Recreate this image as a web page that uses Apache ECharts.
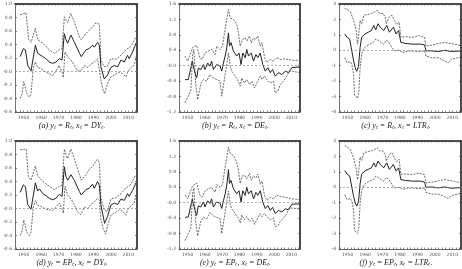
<!DOCTYPE html>
<html>
<head>
<meta charset="utf-8">
<script src="https://cdn.jsdelivr.net/npm/echarts@6/dist/echarts.min.js"></script>
<style>
html, body { margin: 0; padding: 0; background: #fff; }
#main { width: 462px; height: 269px; }
</style>
</head>
<body>
<div id="main"></div>
<script>
"use strict";
// tick labels / positions on the year axis
let yearLabels = [1950, 1960, 1970, 1980, 1990, 2000, 2010];
let yearTicks = [1946, 1948, 1950, 1952, 1954, 1956, 1958, 1960, 1962, 1964, 1966, 1968, 1970, 1972, 1974, 1976, 1978,
    1980, 1982, 1984, 1986, 1988, 1990, 1992, 1994, 1996, 1998, 2000, 2002, 2004, 2006, 2008, 2010, 2012, 2014];
let captions = [
    '(a) yₜ = Rₜ, xₜ = DYₜ.',
    '(b) yₜ = Rₜ, xₜ = DEₜ.',
    '(c) yₜ = Rₜ, xₜ = LTRₜ.',
    '(d) yₜ = EPₜ, xₜ = DYₜ.',
    '(e) yₜ = EPₜ, xₜ = DEₜ.',
    '(f) yₜ = EPₜ, xₜ = LTRₜ.'
];

// (a) upper band, estimate, lower band
let aUpper = [[1948,0.84],[1951.3,0.87],[1951.8,0.87],[1952.9,0.47],[1954.2,0.43],[1956.7,0.64],[1958,0.47],[1961,0.42],[1962.5,0.38],[1964.7,0.32],[1967.6,0.27],[1970.4,0.32],[1972,0.34],[1973.3,0.81],[1974.3,0.79],[1975.2,0.72],[1977,0.86],[1979,0.74],[1982,0.51],[1983,0.47],[1985.7,0.56],[1987.6,0.61],[1989.5,0.66],[1991.4,0.72],[1992.4,0.74],[1993.4,0.70],[1994.3,0.17],[1996.2,0.07],[1998,0.08],[2000,0.19],[2002.9,0.18],[2005.8,0.24],[2008.6,0.32],[2011.5,0.37],[2014.4,0.51]];
let aMid = [[1948,0.22],[1949.8,0.34],[1951,0.32],[1952.3,0.09],[1954.2,0.01],[1955.2,0.03],[1956.7,0.39],[1958,0.27],[1959,0.29],[1961,0.22],[1962.8,0.19],[1964.7,0.14],[1966.6,0.12],[1968.5,0.14],[1970.4,0.19],[1972,0.17],[1973.3,0.56],[1974.3,0.47],[1975.2,0.42],[1977.1,0.54],[1979,0.44],[1982,0.27],[1983,0.22],[1985.7,0.32],[1987.6,0.34],[1989.5,0.39],[1990.5,0.36],[1992.4,0.43],[1993.4,0.39],[1994.3,0.07],[1996.2,-0.11],[1998.1,-0.05],[2000,0.06],[2002,0.09],[2003.9,0.07],[2005.8,0.17],[2007.7,0.14],[2009.6,0.24],[2010.5,0.19],[2012.5,0.29],[2014.4,0.42]];
let aLower = [[1948,-0.40],[1949.1,-0.33],[1950,-0.15],[1950.6,-0.20],[1951.7,-0.33],[1953.2,-0.38],[1954.2,-0.33],[1955.5,0.06],[1956.7,0.14],[1958,0.06],[1960,0.04],[1962.8,-0.01],[1964.7,-0.03],[1966.6,-0.06],[1968.5,0.01],[1970.4,0.09],[1972,-0.01],[1972.7,-0.09],[1973.7,0.29],[1975.2,0.22],[1977.1,0.17],[1979,0.09],[1980.9,0.01],[1982.8,0.01],[1984.8,0.09],[1986.7,0.06],[1988.6,0.11],[1990.5,0.14],[1992.4,0.19],[1993.4,0.17],[1994.3,-0.13],[1995.6,-0.28],[1996.4,-0.33],[1998.1,-0.18],[2000,-0.08],[2002,-0.05],[2004.8,-0.01],[2006.7,-0.03],[2008.6,-0.08],[2009.6,-0.01],[2011.5,0.06],[2013.4,0.09],[2014.4,0.22]];

// (b)
let bUpper = [[1948.5,0.25],[1950,0.12],[1952.9,0.47],[1953.8,0.42],[1955.2,0.53],[1957,0.21],[1958.4,0.16],[1960,0.33],[1962,0.38],[1963.9,0.42],[1965.9,0.29],[1966.8,0.51],[1968.8,0.42],[1970.1,0.51],[1972,1.03],[1973.6,1.46],[1974.6,1.24],[1976.5,1.20],[1978.4,1.07],[1979.4,0.85],[1980.4,0.51],[1981.7,0.68],[1983.3,0.72],[1984.2,0.64],[1985.8,0.77],[1986.8,0.59],[1988.1,0.72],[1989.5,0.68],[1990.6,0.77],[1992,0.51],[1993,0.60],[1994.5,0.21],[1995.8,0.08],[1997.8,0.16],[1999.7,0.12],[2001.6,0.21],[2003.6,0.16],[2006.5,0.18],[2010.3,0.14],[2015,0.14]];
let bMid = [[1948.5,-0.36],[1950.4,-0.36],[1952.7,0.12],[1953.3,-0.01],[1954.3,-0.19],[1955.2,-0.32],[1956.2,-0.06],[1957.7,-0.10],[1959.1,0.03],[1960,-0.10],[1961.6,0.07],[1962.9,-0.01],[1963.9,0.12],[1964.9,-0.10],[1966.8,0.03],[1968.8,-0.01],[1969.7,-0.14],[1970.7,0.07],[1971.7,0.25],[1972.6,0.46],[1973.6,0.85],[1974.2,0.51],[1975.1,0.60],[1976.5,0.38],[1978.4,0.25],[1979.7,0.33],[1980.9,0.03],[1981.9,0.33],[1983.3,0.21],[1984.2,0.42],[1985.2,0.25],[1986.8,0.33],[1988.1,0.12],[1989.5,0.29],[1990.6,0.21],[1992,0.33],[1993.5,0.03],[1994.9,-0.14],[1996.4,-0.05],[1997.8,-0.18],[1999.1,-0.10],[2000.7,-0.27],[2002.6,-0.18],[2004.5,-0.23],[2006.5,-0.14],[2008.4,-0.18],[2010.3,-0.05],[2015,-0.03]];
let bLower = [[1948.5,-0.96],[1950.4,-0.79],[1951.9,-0.62],[1952.9,0.29],[1953.6,0.42],[1954.6,-0.45],[1955.8,-0.88],[1956.6,-0.92],[1957.7,-0.45],[1959.1,-0.36],[1961,-0.40],[1962.9,-0.23],[1964.9,-0.32],[1966.8,-0.36],[1968.8,-0.40],[1969.7,-0.79],[1970.3,-0.62],[1971.7,-0.23],[1972.6,0.03],[1973.6,0.33],[1974.6,-0.01],[1975.5,-0.14],[1977.5,-0.27],[1979.4,-0.40],[1980.4,-0.53],[1981.3,-0.32],[1982.9,-0.45],[1984.2,-0.36],[1985.8,-0.49],[1987.2,-0.40],[1988.7,-0.58],[1990,-0.45],[1992,-0.27],[1993,-0.36],[1994.5,-0.27],[1995.8,-0.36],[1997.8,-0.45],[1999.7,-0.40],[2000.7,-0.71],[2002.2,-0.66],[2003.6,-0.49],[2005.5,-0.40],[2007.4,-0.27],[2008.8,-0.14],[2010.3,-0.14],[2015,-0.18]];

// (c)
let cUpper = [[1948.3,2.71],[1949.6,2.65],[1951.5,2.49],[1953.4,1.94],[1954.9,1.28],[1955.6,0.40],[1956.2,0.84],[1957.1,1.94],[1958,1.72],[1959.3,2.27],[1961.8,2.34],[1963.6,2.38],[1965.5,2.49],[1967,2.60],[1968.3,2.38],[1970.2,2.38],[1971.5,2.16],[1972.1,1.72],[1973.9,2.16],[1975.4,2.27],[1976.7,1.94],[1978,1.68],[1979.5,1.83],[1980.5,0.84],[1983.3,0.88],[1987,0.84],[1990.7,0.95],[1994.1,0.84],[1994.9,0.29],[1998.2,0.33],[2002,0.44],[2005.7,0.51],[2011.3,0.40],[2015,0.29]];
let cMid = [[1948.3,1.06],[1949.6,0.84],[1951.1,0.73],[1951.9,0.62],[1953.4,-0.70],[1954.3,-1.14],[1955.2,-1.36],[1956.2,-1.03],[1957.1,0.18],[1958,0.84],[1959.9,1.06],[1961.8,1.17],[1963.6,1.28],[1965,1.61],[1966.1,1.33],[1967.4,1.72],[1968.7,1.50],[1970.6,1.28],[1972.4,1.61],[1973.9,1.17],[1974.9,1.06],[1976.2,1.50],[1977.7,1.06],[1979.2,1.28],[1980.5,0.51],[1983.3,0.44],[1987,0.40],[1991.7,0.40],[1994.1,0.35],[1994.9,-0.04],[1998.2,-0.04],[2002,-0.08],[2005.7,0.0],[2009.4,-0.08],[2015,-0.04]];
let cLower = [[1948.3,-0.48],[1949.6,-0.81],[1951.5,-0.74],[1952.4,-0.92],[1953.4,-1.58],[1953.9,-2.90],[1954.9,-3.01],[1955.6,-3.12],[1956.4,-2.68],[1957.1,-1.14],[1958,-0.26],[1959,0.07],[1960.8,0.29],[1962.7,0.40],[1964.6,0.51],[1966.1,0.73],[1967.4,0.66],[1969.3,0.51],[1970.6,0.40],[1972.4,0.66],[1974.3,0.40],[1975.4,0.18],[1976.7,-0.04],[1979.5,0.0],[1981.4,-0.15],[1985.1,-0.04],[1990.7,-0.08],[1994.1,-0.04],[1994.9,-0.37],[1998.2,-0.48],[2002,-0.48],[2005.7,-0.70],[2007.6,-0.81],[2009.4,-0.59],[2013.2,-0.48],[2015,-0.44]];

// (d)
let dUpper = [[1948,0.87],[1951.5,0.88],[1952.6,0.47],[1954.2,0.42],[1956.7,0.63],[1958,0.48],[1961,0.40],[1962.5,0.37],[1964.7,0.33],[1967.6,0.28],[1970.4,0.33],[1972,0.34],[1973.3,0.88],[1974.3,0.80],[1975.2,0.74],[1977,0.88],[1979,0.74],[1982,0.50],[1983,0.42],[1985.7,0.50],[1987.6,0.58],[1989.5,0.62],[1991.4,0.70],[1992.4,0.73],[1993.4,0.68],[1994.3,0.15],[1996.2,-0.02],[1998,-0.04],[2000,0.14],[2002.9,0.16],[2005.8,0.22],[2008.6,0.30],[2011.5,0.36],[2014.4,0.50]];
let dMid = [[1948,0.24],[1949.8,0.35],[1951,0.32],[1952.3,0.06],[1954.2,-0.01],[1955.2,0.01],[1956.7,0.38],[1958,0.26],[1959,0.29],[1961,0.22],[1962.8,0.19],[1964.7,0.15],[1966.6,0.13],[1968.5,0.15],[1970.4,0.21],[1972,0.18],[1973.3,0.62],[1974.3,0.47],[1975.2,0.42],[1977.1,0.50],[1979,0.42],[1982,0.25],[1983,0.20],[1985.7,0.28],[1987.6,0.30],[1989.5,0.36],[1990.5,0.30],[1992.4,0.40],[1993.4,0.34],[1994.3,0.05],[1996.4,-0.22],[1998.1,-0.12],[2000,0.05],[2002,0.08],[2003.9,0.06],[2005.8,0.14],[2007.7,0.12],[2009.6,0.22],[2010.5,0.18],[2012.5,0.27],[2014.4,0.38]];
let dLower = [[1948,-0.40],[1949.1,-0.33],[1950,-0.17],[1950.6,-0.22],[1951.7,-0.35],[1953.2,-0.40],[1954.2,-0.35],[1955.5,0.02],[1956.7,0.12],[1958,0.05],[1960,0.03],[1962.8,-0.01],[1964.7,-0.02],[1966.6,-0.03],[1968.5,0.02],[1970.4,0.08],[1972,0.0],[1972.7,-0.07],[1973.7,0.33],[1975.2,0.20],[1977.1,0.14],[1979,0.06],[1980.9,-0.05],[1982.8,-0.09],[1984.8,0.02],[1986.7,0.0],[1988.6,0.06],[1990.5,0.10],[1992.4,0.15],[1993.4,0.12],[1994.3,-0.16],[1995.6,-0.30],[1997,-0.38],[1998.1,-0.26],[2000,-0.10],[2002,-0.07],[2004.8,-0.02],[2006.7,-0.04],[2008.6,-0.10],[2009.6,-0.02],[2011.5,0.04],[2013.4,0.08],[2014.4,0.20]];

// (e)
let eUpper = [[1948.5,0.20],[1950,0.10],[1952.9,0.44],[1953.8,0.40],[1955.2,0.51],[1957,0.20],[1958.4,0.14],[1960,0.30],[1962,0.36],[1963.9,0.40],[1965.9,0.27],[1966.8,0.47],[1968.8,0.40],[1970.1,0.47],[1972,1.00],[1973.6,1.44],[1974.6,1.28],[1976.5,1.22],[1978.4,1.05],[1979.4,0.84],[1980.4,0.50],[1981.7,0.70],[1983.3,0.70],[1984.2,0.62],[1985.8,0.76],[1986.8,0.58],[1988.1,0.70],[1989.5,0.64],[1990.6,0.74],[1992,0.48],[1993,0.56],[1994.5,0.18],[1995.8,0.06],[1997.8,0.14],[1999.7,0.10],[2001.6,0.20],[2003.6,0.16],[2006.5,0.14],[2010.3,0.10],[2015,0.08]];
let eMid = [[1948.5,-0.38],[1950.4,-0.37],[1952.7,0.10],[1953.3,-0.03],[1954.3,-0.20],[1955.2,-0.33],[1956.2,-0.08],[1957.7,-0.11],[1959.1,0.02],[1960,-0.11],[1961.6,0.05],[1962.9,-0.02],[1963.9,0.10],[1964.9,-0.11],[1966.8,0.02],[1968.8,-0.02],[1969.7,-0.15],[1970.7,0.05],[1971.7,0.23],[1972.6,0.44],[1973.6,0.86],[1974.2,0.50],[1975.1,0.58],[1976.5,0.36],[1978.4,0.23],[1979.7,0.31],[1980.9,0.02],[1981.9,0.31],[1983.3,0.19],[1984.2,0.40],[1985.2,0.23],[1986.8,0.31],[1988.1,0.10],[1989.5,0.27],[1990.6,0.19],[1992,0.31],[1993.5,0.01],[1994.9,-0.15],[1996.4,-0.07],[1997.8,-0.20],[1999.1,-0.12],[2000.7,-0.28],[2002.6,-0.20],[2004.5,-0.24],[2006.5,-0.16],[2008.4,-0.18],[2010.3,-0.04],[2015,-0.03]];
let eLower = [[1948.5,-0.98],[1950.4,-0.80],[1951.9,-0.64],[1952.9,0.26],[1953.6,0.38],[1954.6,-0.46],[1955.8,-0.86],[1956.6,-0.90],[1957.7,-0.46],[1959.1,-0.38],[1961,-0.42],[1962.9,-0.25],[1964.9,-0.34],[1966.8,-0.38],[1968.8,-0.42],[1969.7,-0.80],[1970.3,-0.64],[1971.7,-0.25],[1972.6,0.01],[1973.6,0.30],[1974.6,-0.03],[1975.5,-0.16],[1977.5,-0.28],[1979.4,-0.40],[1980.4,-0.52],[1981.3,-0.32],[1982.9,-0.44],[1984.2,-0.36],[1985.8,-0.48],[1987.2,-0.40],[1988.7,-0.56],[1990,-0.44],[1992,-0.28],[1993,-0.36],[1994.5,-0.28],[1995.8,-0.36],[1997.8,-0.44],[1999.7,-0.40],[2000.7,-0.62],[2002.2,-0.60],[2003.6,-0.48],[2005.5,-0.40],[2007.4,-0.28],[2008.8,-0.14],[2010.3,-0.14],[2015,-0.16]];

// (f)
let fUpper = [[1948.3,2.70],[1949.6,2.62],[1951.5,2.46],[1953.4,1.90],[1954.9,1.20],[1955.6,0.50],[1956.2,0.90],[1957.1,1.96],[1958,1.74],[1959.3,2.24],[1961.8,2.32],[1963.6,2.36],[1965.5,2.46],[1967,2.56],[1968.3,2.36],[1970.2,2.36],[1971.5,2.14],[1972.1,1.70],[1973.9,2.12],[1975.4,2.24],[1976.7,1.92],[1978,1.66],[1979.5,1.82],[1980.5,0.84],[1983.3,0.86],[1987,0.82],[1990.7,0.92],[1994.1,0.82],[1994.9,0.28],[1998.2,0.32],[2002,0.42],[2005.7,0.50],[2011.3,0.38],[2015,0.28]];
let fMid = [[1948.3,1.08],[1949.6,0.86],[1951.1,0.74],[1951.9,0.64],[1953.4,-0.60],[1954.3,-1.02],[1955.2,-1.22],[1956.2,-0.94],[1957.1,0.22],[1958,0.86],[1959.9,1.06],[1961.8,1.16],[1963.6,1.26],[1965,1.58],[1966.1,1.32],[1967.4,1.70],[1968.7,1.48],[1970.6,1.26],[1972.4,1.58],[1973.9,1.16],[1974.9,1.06],[1976.2,1.48],[1977.7,1.06],[1979.2,1.26],[1980.5,0.50],[1983.3,0.44],[1987,0.40],[1991.7,0.40],[1994.1,0.34],[1994.9,0.0],[1998.2,0.02],[2002,-0.04],[2005.7,0.02],[2009.4,-0.06],[2015,-0.02]];
let fLower = [[1948.3,-0.48],[1949.6,-0.80],[1951.5,-0.72],[1952.4,-0.90],[1953.4,-1.50],[1953.9,-2.80],[1954.9,-2.92],[1955.6,-3.00],[1956.4,-2.56],[1957.1,-1.06],[1958,-0.22],[1959,0.10],[1960.8,0.30],[1962.7,0.40],[1964.6,0.50],[1966.1,0.72],[1967.4,0.64],[1969.3,0.50],[1970.6,0.40],[1972.4,0.64],[1974.3,0.40],[1975.4,0.18],[1976.7,-0.04],[1979.5,0.0],[1981.4,-0.14],[1985.1,-0.04],[1990.7,-0.08],[1994.1,-0.04],[1994.9,-0.34],[1998.2,-0.44],[2002,-0.44],[2005.7,-0.62],[2007.6,-0.72],[2009.4,-0.54],[2013.2,-0.44],[2015,-0.40]];

let panels = [
    {left: 15,  top: 4,   width: 122, height: 108, min: -0.6, max: 1.0, step: 0.2, dec: 1, lines: [aUpper, aMid, aLower]},
    {left: 179, top: 4,   width: 121, height: 108, min: -1.2, max: 1.6, step: 0.4, dec: 1, lines: [bUpper, bMid, bLower]},
    {left: 339, top: 4,   width: 122, height: 108, min: -4,   max: 3,   step: 1,   dec: 0, lines: [cUpper, cMid, cLower]},
    {left: 15,  top: 141, width: 122, height: 108, min: -0.6, max: 1.0, step: 0.2, dec: 1, lines: [dUpper, dMid, dLower]},
    {left: 179, top: 141, width: 121, height: 108, min: -1.2, max: 1.6, step: 0.4, dec: 1, lines: [eUpper, eMid, eLower]},
    {left: 339, top: 141, width: 122, height: 108, min: -4,   max: 3,   step: 1,   dec: 0, lines: [fUpper, fMid, fLower]}
];

let myChart = echarts.init(document.getElementById('main'), null, {renderer: 'canvas'});

let grid = [], xAxis = [], yAxis = [], series = [], graphic = [];
let labelFont = 'DejaVu Sans';

panels.forEach(function (p, i) {
    grid.push({left: p.left, top: p.top, width: p.width, height: p.height, show: false});
    // bottom + top x axes
    xAxis.push({
        gridIndex: i, type: 'value', min: 1945, max: 2015, position: 'bottom',
        axisLine: {onZero: false, lineStyle: {color: '#666', width: 1}},
        axisTick: {inside: true, length: 1.5, customValues: yearTicks, lineStyle: {color: '#555', width: 0.7}},
        axisLabel: {
            customValues: yearLabels, fontSize: 4.5, color: '#555', margin: 3, fontFamily: labelFont,
            formatter: function (v) { return String(v); }
        },
        splitLine: {show: false}
    });
    xAxis.push({
        gridIndex: i, type: 'value', min: 1945, max: 2015, position: 'top',
        axisLine: {onZero: false, lineStyle: {color: '#111', width: 1.5}},
        axisTick: {inside: true, length: 1.5, customValues: yearTicks, lineStyle: {color: '#555', width: 0.7}},
        axisLabel: {show: false},
        splitLine: {show: false}
    });
    // left + right y axes
    yAxis.push({
        gridIndex: i, type: 'value', min: p.min, max: p.max, interval: p.step, position: 'left',
        axisLine: {show: true, onZero: false, lineStyle: {color: '#777', width: 1}},
        axisTick: {show: true, inside: true, length: 2, lineStyle: {color: '#555', width: 0.7}},
        minorTick: {show: true, splitNumber: 4, length: 1, lineStyle: {color: '#666', width: 0.6}},
        axisLabel: {
            fontSize: 4.5, color: '#555', margin: 3, fontFamily: labelFont,
            formatter: function (v) {
                if (Math.abs(v) < 1e-9) return p.dec ? '-0.0' : '0';
                return v.toFixed(p.dec);
            }
        },
        splitLine: {show: false}
    });
    yAxis.push({
        gridIndex: i, type: 'value', min: p.min, max: p.max, interval: p.step, position: 'right',
        axisLine: {show: true, onZero: false, lineStyle: {color: '#111', width: 1.5}},
        axisTick: {show: true, inside: true, length: 2, lineStyle: {color: '#555', width: 0.7}},
        axisLabel: {show: false},
        splitLine: {show: false}
    });

    p.lines.forEach(function (d, j) {
        let s = {
            type: 'line', xAxisIndex: 2 * i, yAxisIndex: 2 * i, data: d,
            symbol: 'none', silent: true, clip: true,
            lineStyle: j === 1
                ? {color: '#222', width: 1}
                : {color: '#444', width: 0.8, type: [2, 1.2]}
        };
        if (j === 1) {
            s.markLine = {
                silent: true, symbol: 'none', label: {show: false},
                lineStyle: {color: '#888', width: 0.7, type: [2, 2]},
                data: [{yAxis: 0}]
            };
        }
        series.push(s);
    });

    graphic.push({
        type: 'text',
        x: p.left + p.width / 2 - 4,
        y: p.top + p.height + 14,
        style: {
            text: captions[i],
            font: 'italic 8px "Liberation Serif"',
            fill: '#222',
            align: 'center',
            verticalAlign: 'middle'
        }
    });
});

let option = {
    animation: false,
    backgroundColor: '#fff',
    grid: grid,
    xAxis: xAxis,
    yAxis: yAxis,
    series: series,
    graphic: graphic
};
myChart.setOption(option);
</script>
</body>
</html>
